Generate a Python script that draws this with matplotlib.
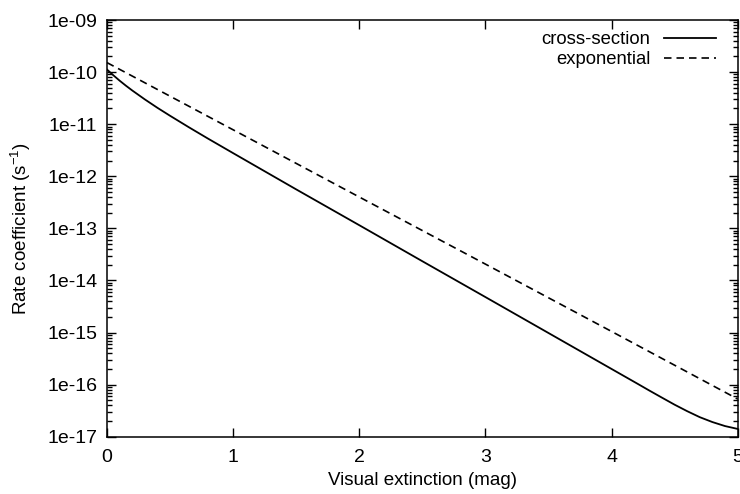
import matplotlib
matplotlib.use("Agg")
import matplotlib.pyplot as plt
from matplotlib.ticker import LogLocator, NullFormatter, FixedLocator

plt.rcParams['font.family'] = ['Liberation Sans', 'DejaVu Sans']

# visual extinction (mag) and rate coefficients (s^-1)
av_cross = [0.0, 0.05, 0.1, 0.15, 0.2, 0.3, 0.4, 0.5, 0.65, 0.8, 1.0, 1.5, 2.0,
            2.5, 3.0, 3.5, 4.0, 4.2, 4.3, 4.4, 4.5, 4.6, 4.7, 4.8, 4.9, 5.0]
rate_cross = [1.12e-10, 8.7e-11, 6.85e-11, 5.48e-11, 4.44e-11, 2.99e-11, 2.06e-11,
              1.45e-11, 8.7e-12, 5.3e-12, 2.78e-12, 5.6e-13, 1.15e-13, 2.34e-14,
              4.8e-15, 9.8e-16, 2.0e-16, 1.06e-16, 7.69e-17, 5.62e-17, 4.12e-17,
              3.09e-17, 2.37e-17, 1.91e-17, 1.60e-17, 1.41e-17]

av_exp = [0.0, 1.0, 2.0, 3.0, 4.0, 5.0]
rate_exp = [1.52e-10, 7.8e-12, 4.0e-13, 2.06e-14, 1.05e-15, 5.3e-17]

y_ticks = [1e-17, 1e-16, 1e-15, 1e-14, 1e-13, 1e-12, 1e-11, 1e-10, 1e-09]
y_labels = ['1e-17', '1e-16', '1e-15', '1e-14', '1e-13', '1e-12', '1e-11', '1e-10', '1e-09']
x_ticks = [0, 1, 2, 3, 4, 5]


def main():
    fig = plt.figure(figsize=(7.4, 4.94), dpi=100)
    ax = fig.add_axes([0.1446, 0.116, 0.8522, 0.8435])

    ax.plot(av_cross, rate_cross, color='black', lw=1.3, label='cross-section')
    ax.plot(av_exp, rate_exp, color='black', lw=1.2, dashes=(4.5, 3.0), label='exponential')

    ax.set_yscale('log')
    ax.set_xlim(0, 5)
    ax.set_ylim(1e-17, 1e-09)

    ax.xaxis.set_major_locator(FixedLocator(x_ticks))
    ax.set_xticklabels([str(t) for t in x_ticks])
    ax.yaxis.set_major_locator(FixedLocator(y_ticks))
    ax.set_yticklabels(y_labels)
    ax.yaxis.set_minor_locator(LogLocator(base=10, subs=range(2, 10), numticks=20))
    ax.yaxis.set_minor_formatter(NullFormatter())

    ax.tick_params(which='both', direction='in', top=True, right=True, width=1.0)
    ax.tick_params(which='major', length=6.5)
    ax.tick_params(which='minor', length=3.5)
    ax.tick_params(axis='x', labelsize=14, pad=9)
    ax.tick_params(axis='y', labelsize=14, pad=7)
    for s in ax.spines.values():
        s.set_linewidth(1.1)

    ax.set_xlabel('Visual extinction (mag)', fontsize=13.5, labelpad=4)
    ax.set_ylabel('Rate coefficient (s$^{\\mathregular{-1}}$)', fontsize=13.5, labelpad=10)

    ax.legend(loc='upper right', bbox_to_anchor=(0.966, 0.973), frameon=False,
              markerfirst=False, fontsize=13.3, handlelength=2.85, handletextpad=0.7,
              labelspacing=0.15, borderpad=0, borderaxespad=0)

    fig.savefig('out.png', dpi=100)


if __name__ == "__main__":
    main()
